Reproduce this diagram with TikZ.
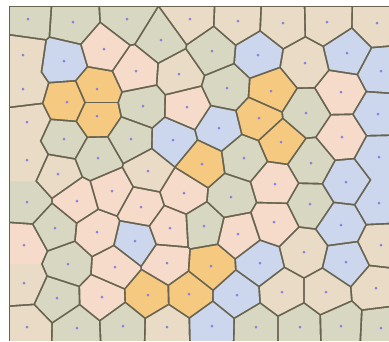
\documentclass[tikz,border=0pt]{standalone}
\definecolor{cT}{HTML}{E9DBC6}
\definecolor{cG}{HTML}{D8D7C1}
\definecolor{cP}{HTML}{F6DACA}
\definecolor{cB}{HTML}{CCD7EE}
\definecolor{cO}{HTML}{F6C981}
\definecolor{edgec}{HTML}{67634F}
\definecolor{dotc}{HTML}{8A7FE2}
\tikzset{site/.style={fill=dotc}}
\begin{document}
\begin{tikzpicture}[x=1pt,y=-1pt]
\useasboundingbox (0,0) rectangle (389,341);
\def\sites{28/19/G,73/22/G,127/19/G,190/19/T,238/21/T,283/23/T,327/22/T,377/23/T,
23/55/T,64/61/B,104/49/P,161/40/G,212/51/G,258/55/B,305/63/T,347/53/B,381/71/B,
23/89/T,67/102/O,97/89/O,97/116/O,136/71/P,179/74/T,227/88/G,271/91/O,341/92/P,
27/122/T,143/106/G,187/107/P,259/118/O,306/113/G,378/114/B,
64/139/G,131/139/G,173/140/B,219/128/B,281/142/O,342/137/P,
27/160/T,98/158/G,148/171/T,202/164/O,244/158/G,311/163/G,379/157/B,
58/174/T,27/202/G,77/201/P,112/191/P,184/193/P,231/197/G,275/184/P,346/182/B,
141/207/P,310/204/G,379/203/B,
55/228/G,97/232/P,170/228/P,204/226/G,238/234/P,274/222/P,341/225/B,
24/245/P,135/241/B,381/245/T,304/252/T,
68/264/G,115/267/P,167/263/P,211/266/O,260/263/B,346/262/B,
24/283/T,57/298/G,102/297/P,148/295/O,189/294/O,237/295/B,282/292/T,326/292/T,376/288/T,
27/327/T,77/328/G,123/326/G,167/327/T,212/326/B,256/327/G,300/327/G,341/326/G,381/328/G}
\fill[white] (0,0) rectangle (389,341);
\fill[edgec] (8.5,5.5) rectangle (389,341);
\foreach \xi/\yi/\ci in \sites {
  \begin{scope}
    \foreach \xj/\yj/\cj in \sites {
      \pgfmathtruncatemacro\near{and(veclen(\xj-\xi,\yj-\yi)>0.5,veclen(\xj-\xi,\yj-\yi)<130)}
      \ifnum\near=1
        \pgfmathsetmacro\ang{atan2(\yi-\yj,\xj-\xi)}
        \clip[shift={({(\xi+\xj)/2},{(\yi+\yj)/2})},rotate=\ang] (-0.95,-700) rectangle (-700,700);
      \fi
    }
    \fill[c\ci] (10.3,7.3) rectangle (389,341);
  \end{scope}
}
\foreach \xi/\yi/\ci in \sites {
  \fill[site] (\xi,\yi) circle (1.5);
}
\end{tikzpicture}
\end{document}
